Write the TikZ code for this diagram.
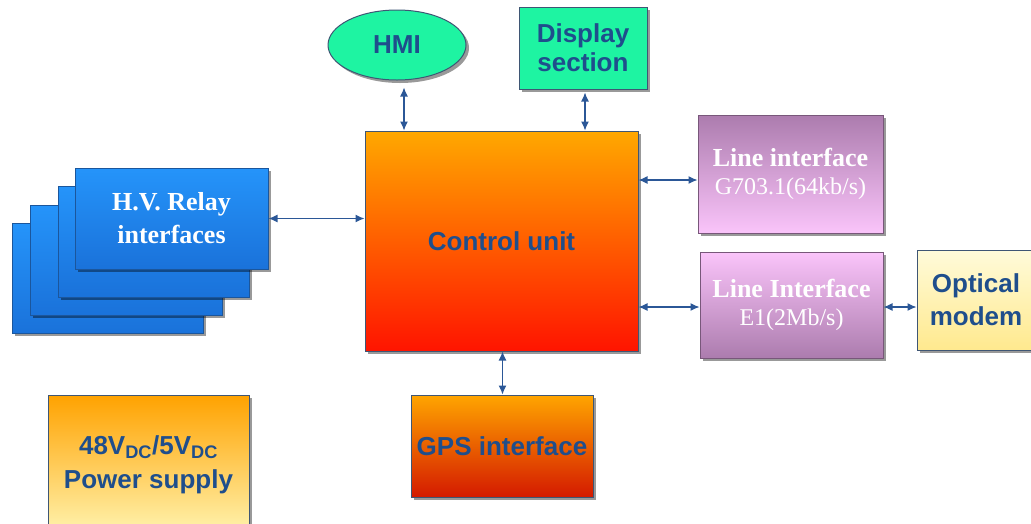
\documentclass[tikz,border=0pt]{standalone}
\usepackage{fontspec}
\setmainfont{Liberation Serif}
\setsansfont{Liberation Sans}
\usetikzlibrary{arrows.meta,shapes.geometric,shadows}
\definecolor{txtblue}{HTML}{1F4E8C}
\definecolor{arrblue}{HTML}{2B5797}
\definecolor{edgecol}{HTML}{3F5674}
\definecolor{mint}{HTML}{1EF4A2}
\definecolor{ctrltop}{HTML}{FFA800}
\definecolor{ctrlmid}{HTML}{FF6A00}
\definecolor{ctrlbot}{HTML}{FF1400}
\definecolor{hvtop}{HTML}{2594FA}
\definecolor{hvbot}{HTML}{1A72DA}
\definecolor{hvedge}{HTML}{1B569C}
\definecolor{lidark}{HTML}{AC7CAE}
\definecolor{lilight}{HTML}{FAC4FA}
\definecolor{opttop}{HTML}{FFFBDA}
\definecolor{optbot}{HTML}{FFE98E}
\definecolor{gpstop}{HTML}{FFA500}
\definecolor{gpsbot}{HTML}{D41A00}
\definecolor{pwtop}{HTML}{FFA200}
\definecolor{pwbot}{HTML}{FFF4B0}
\begin{document}
\begin{tikzpicture}[x=1pt,y=-1pt,
  box/.style={draw=edgecol, line width=1pt, inner sep=0pt, align=center,
    drop shadow={shadow xshift=3pt, shadow yshift=-3pt, opacity=0.4, fill=black}},
  sansbig/.style={font=\sffamily\bfseries\fontsize{26}{29}\selectfont, text=txtblue},
  hvbox/.style={box, draw=hvedge, top color=hvtop, bottom color=hvbot},
  libox/.style={box, draw=lidark!70!black, text=white, font=\fontsize{24}{28}\selectfont},
  arr/.style={draw=arrblue, line width=1.2pt, {Latex[length=9pt,width=8pt]}-{Latex[length=9pt,width=8pt]}}
]
\useasboundingbox (0,0) rectangle (1031,523);
\clip (0,0) rectangle (1031,523);

% HMI and display
\node[box, ellipse, fill=mint, minimum width=138pt, minimum height=70pt, sansbig] (hmi) at (397,45) {HMI};
\node[box, fill=mint, minimum width=128pt, minimum height=82pt, sansbig] (disp) at (583,48) {\raisebox{-3pt}{Display}\\\raisebox{-3pt}{section}};

% Control unit
\node[box, top color=ctrltop, middle color=ctrlmid, bottom color=ctrlbot, minimum width=273pt, minimum height=220pt, sansbig] (ctrl) at (501.5,241) {Control unit};

% H.V. relay stack
\node[hvbox, minimum width=191pt, minimum height=110pt] (hv4) at (107.5,278) {};
\node[hvbox, minimum width=192pt, minimum height=110pt] (hv3) at (126,260) {};
\node[hvbox, minimum width=191pt, minimum height=111pt] (hv2) at (153.5,241.5) {};
\node[hvbox, minimum width=193pt, minimum height=101pt, text=white, font=\bfseries\fontsize{26}{33}\selectfont] (hv) at (171.5,218.5) {\raisebox{-3pt}{H.V. Relay}\\\raisebox{-3pt}{interfaces}};

% Line interfaces
\node[libox, top color=lidark, bottom color=lilight, minimum width=185pt, minimum height=118pt] (li1) at (790.5,174)
  {\raisebox{-5pt}{\bfseries\fontsize{26}{29}\selectfont Line interface}\\\raisebox{-5pt}{G703.1(64kb/s)}};
\node[libox, top color=lilight, bottom color=lidark, minimum width=183pt, minimum height=106pt] (li2) at (791.5,305)
  {\raisebox{-5pt}{\bfseries\fontsize{26}{29}\selectfont Line Interface}\\\raisebox{-5pt}{E1(2Mb/s)}};

% Optical modem
\node[box, top color=opttop, bottom color=optbot, minimum width=118pt, minimum height=100pt, sansbig, font=\sffamily\bfseries\fontsize{26}{33}\selectfont] (opt) at (976,300) {\raisebox{-1pt}{Optical}\\\raisebox{-1pt}{modem}};

% GPS and power
\node[box, top color=gpstop, bottom color=gpsbot, minimum width=182pt, minimum height=102pt, sansbig] (gps) at (502,446) {GPS interface};
\node[box, top color=pwtop, bottom color=pwbot, minimum width=201pt, minimum height=140pt, sansbig, font=\sffamily\bfseries\fontsize{26}{34}\selectfont] (pw) at (148.5,465)
  {48V\textsubscript{DC}/5V\textsubscript{DC}\\Power supply};

% connector end points
\coordinate (hmiA) at ([xshift=7pt]hmi.south);
\coordinate (dispA) at ([xshift=2pt]disp.south);
\coordinate (li1A) at ([yshift=-6pt]li1.west);
\coordinate (li2A) at ([yshift=-2pt]li2.west);
\coordinate (li2B) at ([yshift=-2pt]li2.east);
\coordinate (ctrlS) at ([xshift=1pt]ctrl.south);

% connectors
\draw[arr, shorten <=7pt] (hmiA) -- (hmiA |- ctrl.north);
\draw[arr, shorten <=3pt] (dispA) -- (dispA |- ctrl.north);
\draw[arr] (hv.east) -- (ctrl.west |- hv.east);
\draw[arr] (li1A) -- (ctrl.east |- li1A);
\draw[arr] (li2A) -- (ctrl.east |- li2A);
\draw[arr] (li2B) -- (opt.west |- li2B);
\draw[arr] (ctrlS) -- (ctrlS |- gps.north);
\end{tikzpicture}
\end{document}
